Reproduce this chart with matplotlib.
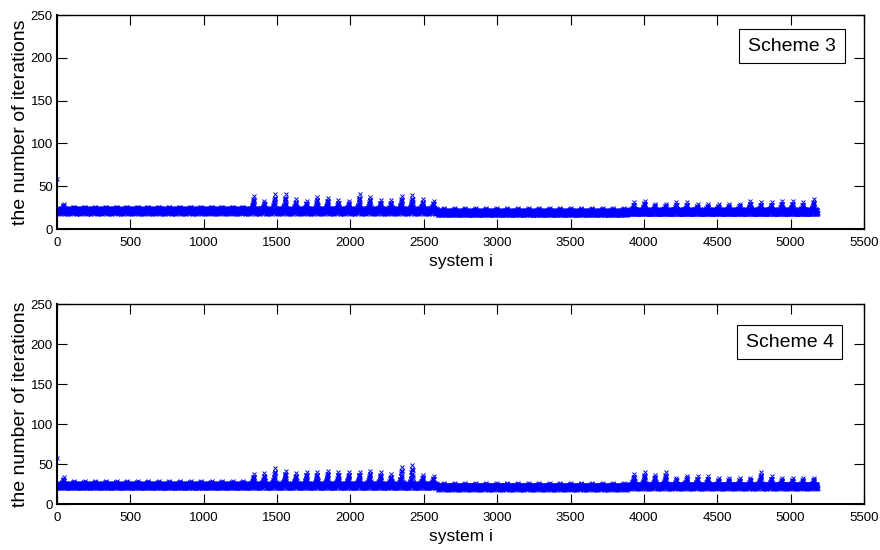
import numpy as np
import matplotlib
matplotlib.use("Agg")
import matplotlib.pyplot as plt

plt.rcParams['font.family'] = ['Liberation Sans', 'DejaVu Sans']

# ---------------- data ----------------
N_SYSTEMS = 5184          # systems i = 1 .. 5184 (72 blocks of 72)
BLOCK = 72

# per-block band centre (72 blocks) and per-block peak value of each block
# blocks 0-17: flat, 18-35: bumpy, 36-53: flat (lower), 54-71: bumpy
s3_base = [21.0] * 18 + [21.0] * 18 + [19.0] * 18 + [20.0] * 18
s3_peak = ([27.0] + [23.5] * 17 +
           [36, 30, 38, 38, 32, 30, 35, 34, 31, 30, 38, 35, 31, 31, 36, 37, 32, 30] +
           [21.5] * 18 +
           [28.5, 30.5, 27, 27, 28.5, 28.5, 26.5, 26.5, 26.5, 26.5, 27, 30, 28.5,
            28.5, 30, 30, 28.5, 32])

s4_base = [23.0] * 18 + [23.0] * 18 + [21.0] * 18 + [22.0] * 18
s4_peak = ([31.0] + [26.0] * 17 +
           [35, 36, 42, 39, 36, 38, 38, 39, 38, 38, 38, 39, 37, 35, 44, 46.5, 34, 32] +
           [23.5] * 18 +
           [35, 37, 34, 37, 30.5, 33, 32, 32, 30, 30, 30, 30.5, 37, 32, 30, 30, 30, 30.5])

first_value = [58.0, 58.0]   # first system of scheme 3 / scheme 4

# shape of one block (fraction of bump height at each offset within a block)
block_shape = ([0.0] * 26 +
               [0.03, 0.06, 0.09, 0.12, 0.15, 0.19, 0.23, 0.27, 0.31, 0.36, 0.41,
                0.46, 0.52, 0.58, 0.64, 0.71, 0.78, 0.86, 0.94, 1.0, 0.8, 0.6,
                0.4, 0.25, 0.12, 0.05] +
               [0.0] * 20)
# scatter of points around the band centre (repeating)
band_offsets = [0.0, -2.5, 1.5, 3.0, -1.0, -3.0, 2.0, 0.5, -2.0, 2.5, 1.0, -1.5]

labels = ["Scheme 3", "Scheme 4"]


def build(base, peak, first):
    vals = []
    for b in range(len(base)):
        for k in range(BLOCK):
            v = base[b] + (peak[b] - base[b]) * block_shape[k] + band_offsets[k % len(band_offsets)]
            vals.append(v)
    vals[0] = first
    return np.array(vals)


series = [build(s3_base, s3_peak, first_value[0]),
          build(s4_base, s4_peak, first_value[1])]
x = np.arange(1, N_SYSTEMS + 1)

# ---------------- figure ----------------
fig = plt.figure(figsize=(8.8, 5.5), dpi=100)
ax_rects = [[0.0648, 0.5836, 0.917, 0.389],
            [0.0648, 0.0836, 0.917, 0.3636]]
box_pos = [(0.911, 0.855), (0.908, 0.81)]

for i in range(2):
    ax = fig.add_axes(ax_rects[i])
    ax.plot(x, series[i], linestyle='none', marker='x', markersize=2.6,
            markeredgewidth=0.7, color='#0000ff')
    ax.set_xlim(0, 5500)
    ax.set_ylim(0, 250)
    ax.set_xticks(np.arange(0, 5501, 500))
    ax.set_yticks(np.arange(0, 251, 50))
    ax.tick_params(direction='in', length=7, width=0.8, top=True, right=True,
                   labelsize=9.5, colors='black')
    ax.tick_params(axis='x', pad=6)
    ax.tick_params(axis='y', pad=3)
    for side in ['left', 'bottom']:
        ax.spines[side].set_linewidth(1.5)
    for side in ['top', 'right']:
        ax.spines[side].set_linewidth(1.0)
    ax.set_xlabel('system i', fontsize=12.5, labelpad=3)
    ax.set_ylabel('the number of iterations', fontsize=14, labelpad=1)
    ax.text(box_pos[i][0], box_pos[i][1], labels[i], transform=ax.transAxes,
            ha='center', va='center', fontsize=14,
            bbox=dict(boxstyle='square,pad=0.45', facecolor='white',
                      edgecolor='black', linewidth=0.8))

fig.savefig('out.png', dpi=100)
